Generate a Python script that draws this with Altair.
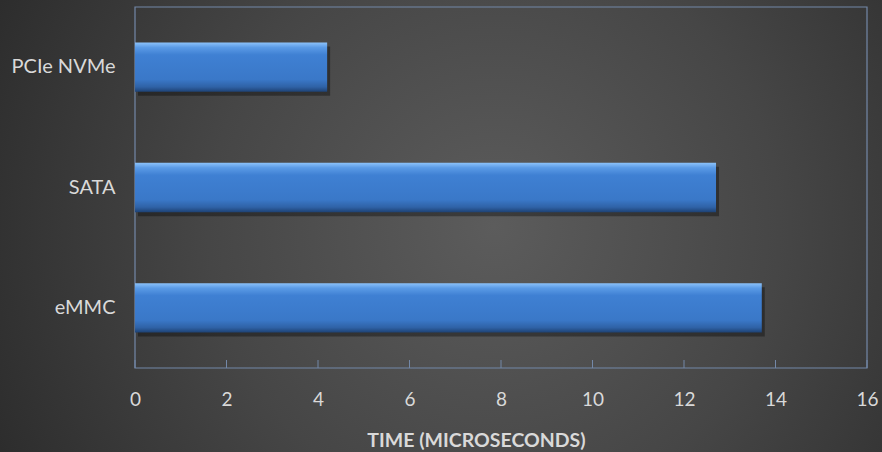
import altair as alt
import pandas as pd

# Storage interface latency
categories = ["PCIe NVMe", "SATA", "eMMC"]
times = [4.2, 12.7, 13.7]
tick_values = [0, 2, 4, 6, 8, 10, 12, 14, 16]

W, H = 732, 361
PAD = {"left": 135, "top": 7, "right": 15, "bottom": 84}

bars_df = pd.DataFrame({"interface": categories, "time": times})
ticks_df = pd.DataFrame({"time": tick_values})
one_df = pd.DataFrame({"k": [0]})

label_color = "#d9d9d9"
frame_color = "#7388a8"
font = "Lato"

x_scale = alt.Scale(domain=[0, 16], nice=False)
y_scale = alt.Scale(domain=categories, paddingInner=0.59, paddingOuter=0.295)

# Axes sit above the full-canvas backdrop (zindex 1)
x_axis = alt.Axis(
    values=tick_values,
    title="TIME (MICROSECONDS)",
    domain=False,
    ticks=False,
    grid=False,
    zindex=1,
    labelFlush=False,
    labelColor=label_color,
    labelFont=font,
    labelFontSize=19,
    labelPadding=31,
    labelBaseline="middle",
    titleColor=label_color,
    titleFont=font,
    titleFontSize=19.5,
    titleFontWeight="bold",
    titleX=341,
    titleY=72,
    titleAlign="center",
    titleBaseline="middle",
)
y_axis = alt.Axis(
    title=None,
    domain=False,
    ticks=False,
    grid=False,
    zindex=1,
    labelColor=label_color,
    labelFont=font,
    labelFontSize=20,
    labelPadding=20,
)

# Dark radial backdrop over the whole canvas
backdrop = alt.Chart(one_df).mark_rect(
    fill=alt.RadialGradient(
        gradient="radial",
        x1=0.56, y1=0.5, r1=0.0,
        x2=0.56, y2=0.5, r2=0.72,
        stops=[
            alt.GradientStop(color="#5c5c5c", offset=0),
            alt.GradientStop(color="#464646", offset=0.45),
            alt.GradientStop(color="#242424", offset=1),
        ],
    ),
    stroke=None,
).encode(
    x=alt.value(-PAD["left"]),
    x2=alt.value(W + PAD["right"]),
    y=alt.value(-PAD["top"]),
    y2=alt.value(H + PAD["bottom"]),
)

# Plot-area frame
frame = alt.Chart(one_df).mark_rect(
    fillOpacity=0, stroke=frame_color, strokeWidth=1.2
).encode(
    x=alt.value(0), x2=alt.value(W), y=alt.value(0), y2=alt.value(H)
)

# Inward tick marks on the value axis
tick_marks = alt.Chart(ticks_df).mark_rule(color=frame_color, strokeWidth=1).encode(
    x=alt.X("time:Q", scale=x_scale, axis=x_axis),
    y=alt.value(H - 8),
    y2=alt.value(H),
)

shadow = alt.Chart(bars_df).mark_bar(
    color="black", opacity=0.35, xOffset=3, yOffset=4
).encode(
    x=alt.X("time:Q", scale=x_scale, axis=x_axis),
    y=alt.Y("interface:N", scale=y_scale, sort=categories, axis=y_axis),
)

bars = alt.Chart(bars_df).mark_bar(
    fill=alt.LinearGradient(
        gradient="linear",
        x1=0, y1=0, x2=0, y2=1,
        stops=[
            alt.GradientStop(color="#8cc2fa", offset=0),
            alt.GradientStop(color="#5b9be6", offset=0.1),
            alt.GradientStop(color="#3f80d3", offset=0.25),
            alt.GradientStop(color="#3a78c8", offset=0.75),
            alt.GradientStop(color="#2f62a6", offset=0.9),
            alt.GradientStop(color="#1e4274", offset=1),
        ],
    ),
    stroke=None,
).encode(
    x=alt.X("time:Q", scale=x_scale, axis=x_axis),
    y=alt.Y("interface:N", scale=y_scale, sort=categories, axis=y_axis),
)

chart = alt.layer(backdrop, frame, tick_marks, shadow, bars).properties(
    width=W,
    height=H,
    autosize=alt.AutoSizeParams(type="none"),
    padding=PAD,
    background="#2a2a2a",
).configure_view(stroke=None)

chart.save("out.html", embed_options={"renderer": "svg", "actions": False})
